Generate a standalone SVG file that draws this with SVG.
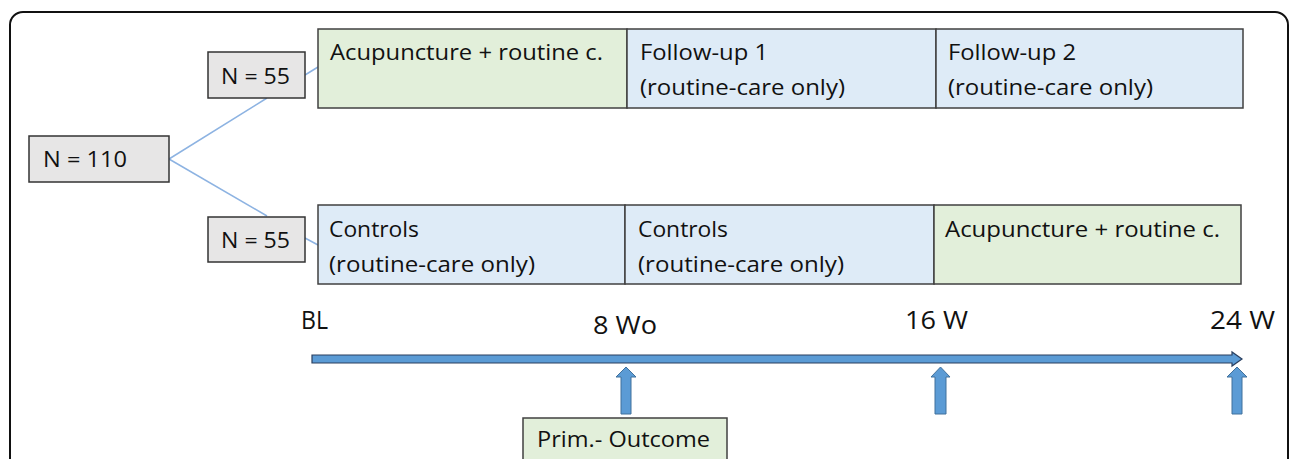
<svg xmlns="http://www.w3.org/2000/svg" width="1292" height="459" viewBox="0 0 1292 459">
<defs>
<style>
text{font-family:"Open Sans","Liberation Sans",sans-serif;fill:#111;}
.t{font-size:22px;}
.tl{font-size:25px;}
.gray{fill:#e7e6e6;stroke:#333;stroke-width:1.5;}
.green{fill:#e2efda;stroke:#404040;stroke-width:1.5;}
.blue{fill:#deebf7;stroke:#404040;stroke-width:1.5;}
.conn{stroke:#8db3e2;stroke-width:1.5;fill:none;}
.up{fill:#5b9bd5;stroke:#41719c;stroke-width:1;}
</style>
</defs>
<rect x="10" y="12" width="1278" height="480" rx="13" fill="#fff" stroke="#111" stroke-width="2"/>

<g id="connectors">
<line class="conn" x1="169" y1="159" x2="267" y2="98"/>
<line class="conn" x1="169" y1="159" x2="267" y2="216"/>
<line class="conn" x1="305" y1="75" x2="318" y2="67"/>
<line class="conn" x1="305" y1="238" x2="318" y2="245"/>
</g>

<g id="n110">
<rect class="gray" x="29" y="136" width="140" height="46"/>
<text class="t" x="43" y="167" textLength="84" lengthAdjust="spacingAndGlyphs">N = 110</text>
</g>
<g id="n55top">
<rect class="gray" x="208" y="52" width="97" height="46"/>
<text class="t" x="221" y="84" textLength="69" lengthAdjust="spacingAndGlyphs">N = 55</text>
</g>
<g id="n55bottom">
<rect class="gray" x="208" y="217" width="97" height="45"/>
<text class="t" x="221" y="248" textLength="69" lengthAdjust="spacingAndGlyphs">N = 55</text>
</g>

<g id="top-acu">
<rect class="green" x="318" y="29" width="309" height="79"/>
<text class="t" x="330" y="60" textLength="273" lengthAdjust="spacingAndGlyphs">Acupuncture + routine c.</text>
</g>
<g id="top-fu1">
<rect class="blue" x="627" y="29" width="309" height="79"/>
<text class="t" x="640" y="60" textLength="128" lengthAdjust="spacingAndGlyphs">Follow-up 1</text>
<text class="t" x="640" y="95" textLength="205" lengthAdjust="spacingAndGlyphs">(routine-care only)</text>
</g>
<g id="top-fu2">
<rect class="blue" x="936" y="29" width="307" height="79"/>
<text class="t" x="948" y="60" textLength="128" lengthAdjust="spacingAndGlyphs">Follow-up 2</text>
<text class="t" x="948" y="95" textLength="205" lengthAdjust="spacingAndGlyphs">(routine-care only)</text>
</g>

<g id="bot-ctrl1">
<rect class="blue" x="318" y="205" width="307" height="79"/>
<text class="t" x="329" y="237" textLength="90" lengthAdjust="spacingAndGlyphs">Controls</text>
<text class="t" x="329" y="272" textLength="206" lengthAdjust="spacingAndGlyphs">(routine-care only)</text>
</g>
<g id="bot-ctrl2">
<rect class="blue" x="625" y="205" width="309" height="79"/>
<text class="t" x="638" y="237" textLength="90" lengthAdjust="spacingAndGlyphs">Controls</text>
<text class="t" x="638" y="272" textLength="206" lengthAdjust="spacingAndGlyphs">(routine-care only)</text>
</g>
<g id="bot-acu">
<rect class="green" x="934" y="205" width="307" height="79"/>
<text class="t" x="945" y="237" textLength="275" lengthAdjust="spacingAndGlyphs">Acupuncture + routine c.</text>
</g>

<g id="timeline">
<text class="tl" x="301" y="329" textLength="27" lengthAdjust="spacingAndGlyphs">BL</text>
<text class="tl" x="593" y="334" textLength="64" lengthAdjust="spacingAndGlyphs">8 Wo</text>
<text class="tl" x="905" y="329" textLength="63" lengthAdjust="spacingAndGlyphs">16 W</text>
<text class="tl" x="1210" y="329" textLength="65" lengthAdjust="spacingAndGlyphs">24 W</text>
<path d="M312,355 L1232,355 L1232,352 L1242,359 L1232,366 L1232,363 L312,363 Z" fill="#5b9bd5" stroke="#2a3f5f" stroke-width="1.2"/>
</g>

<g id="arrow-8">
<path class="up" d="M621,414 L621,377 L616,377 L626,367 L636,377 L631,377 L631,414 Z"/>
</g>
<g id="arrow-16">
<path class="up" d="M935,414 L935,377 L931,377 L940.5,367 L950,377 L946,377 L946,414 Z"/>
</g>
<g id="arrow-24">
<path class="up" d="M1232,414 L1232,377 L1227,377 L1237,367 L1247,377 L1242,377 L1242,414 Z"/>
</g>

<g id="prim-outcome">
<rect class="green" x="523" y="418" width="204" height="60"/>
<text class="t" x="537" y="447" textLength="173" lengthAdjust="spacingAndGlyphs">Prim.- Outcome</text>
</g>
</svg>
